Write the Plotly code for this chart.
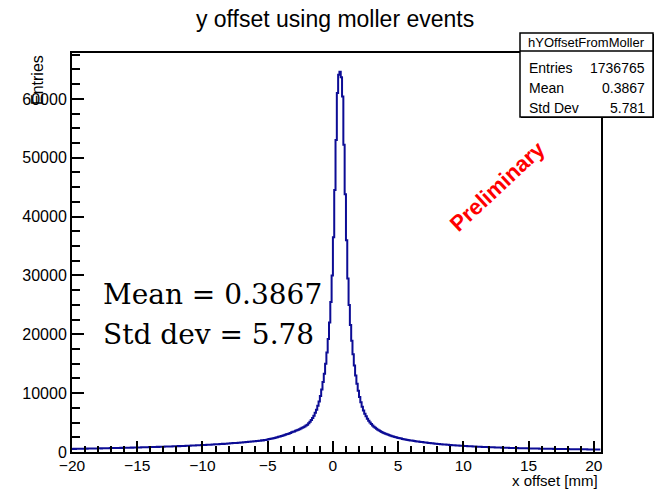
import plotly.graph_objects as go

# ---------------- data ----------------
bin_width = 0.1
x_low = -20.0
# counts per 0.1 mm bin, x from -20.0 to 20.5
counts_left = [
    529, 541, 522, 548, 537, 556, 544, 561, 552, 566,
    574, 563, 589, 578, 595, 584, 601, 590, 612, 603,
    618, 629, 611, 636, 627, 645, 633, 652, 641, 659,
    662, 677, 668, 684, 673, 692, 686, 701, 694, 710,
    716, 708, 729, 738, 724, 747, 741, 756, 749, 768,
    771, 784, 776, 795, 788, 806, 799, 817, 811, 829,
    834, 851, 843, 862, 857, 874, 868, 889, 881, 902,
    906, 921, 915, 937, 929, 951, 946, 968, 960, 983,
    988, 1004, 997, 1021, 1015, 1039, 1031, 1056, 1049, 1072,
    1078, 1097, 1089, 1114, 1106, 1133, 1127, 1152, 1146, 1178,
    1183, 1205, 1198, 1226, 1219, 1247, 1241, 1272, 1266, 1301,
    1309, 1334, 1327, 1361, 1352, 1388, 1379, 1414, 1407, 1446,
    1458, 1489, 1478, 1518, 1509, 1548, 1539, 1579, 1571, 1617,
    1629, 1668, 1657, 1702, 1693, 1738, 1729, 1776, 1768, 1822,
    1839, 1884, 1875, 1932, 1921, 1979, 1968, 2031, 2022, 2089,
    2162, 2205, 2251, 2296, 2349, 2398, 2455, 2511, 2573, 2634,
    2703, 2771, 2845, 2918, 2997, 3078, 3160, 3248, 3340, 3420,
    3500, 3590, 3680, 3780, 3880, 3990, 4100, 4220, 4350, 4490,
    4640, 4870, 5130, 5430, 5780, 6180, 6650, 7200, 7850, 8600,
    9500, 10600, 11900, 13300, 15000, 16900, 19200, 22000, 25500, 30000,
    36500, 44500, 53000, 61000,
]
counts_peak = [64100, 64600, 63700]
counts_right = [
    60400, 52200, 43800, 36000, 29500, 25000, 21600, 18900, 16600, 14700,
    13000, 11600, 10400, 9350, 8450, 7700, 7060, 6520, 6060, 5660,
    5310, 5010, 4740, 4500, 4290, 4100, 3930, 3780, 3640, 3510,
    3390, 3280, 3180, 3085, 2995, 2910, 2830, 2755, 2685, 2620,
    2555, 2495, 2440, 2385, 2330, 2280, 2230, 2185, 2140, 2095,
    2055, 2015, 1975, 1940, 1905, 1870, 1835, 1800, 1770, 1740,
    1710, 1680, 1650, 1622, 1595, 1568, 1542, 1516, 1491, 1467,
    1443, 1420, 1398, 1376, 1355, 1334, 1314, 1294, 1275, 1256,
    1238, 1220, 1202, 1185, 1168, 1152, 1136, 1120, 1105, 1090,
    1075, 1061, 1047, 1033, 1020, 1007, 994, 981, 969, 957,
    945, 934, 923, 912, 901, 890, 880, 870, 860, 850,
    840, 831, 822, 813, 804, 795, 787, 779, 771, 763,
    755, 747, 740, 733, 726, 719, 712, 705, 698, 691,
    685, 679, 673, 667, 661, 655, 649, 643, 637, 632,
    627, 622, 617, 612, 607, 602, 597, 592, 587, 582,
    577, 572, 568, 564, 560, 556, 552, 548, 544, 540,
    536, 532, 528, 524, 520, 516, 512, 509, 506, 503,
    500, 497, 494, 491, 488, 485, 482, 479, 476, 473,
    470, 467, 464, 461, 458, 455, 452, 449, 446, 443,
    440, 437, 434, 431, 428, 425, 422, 420,
]
counts = counts_left + counts_peak + counts_right

x_ticks = [-20, -15, -10, -5, 0, 5, 10, 15, 20]
x_tick_text = ["−20", "−15", "−10", "−5", "0", "5", "10", "15", "20"]
y_ticks = [0, 10000, 20000, 30000, 40000, 50000, 60000]
y_tick_text = ["0", "10000", "20000", "30000", "40000", "50000", "60000"]

title_text = "y offset using moller events"
x_title = "x offset [mm]"
y_title = "Entries"
stats_name = "hYOffsetFromMoller"
stats_rows = [("Entries", "1736765"), ("Mean", "0.3867"), ("Std Dev", "5.781")]
note_lines = ["Mean = 0.3867", "Std dev = 5.78"]

# ---------------- figure ----------------
edges = [round(x_low + i * bin_width, 4) for i in range(len(counts) + 1)]
ys = counts + [counts[-1]]

fig = go.Figure()
fig.add_trace(go.Scatter(
    x=edges, y=ys, mode="lines", line_shape="hv",
    line=dict(color="#0c0c95", width=2), hoverinfo="skip", showlegend=False,
))

W, H = 657, 490
L, R, T, B = 72, 601, 53, 452
pw, ph = R - L, B - T

def px(x):
    return (x - L) / pw

def py(y):
    return (B - y) / ph

ytick_font = dict(family="Liberation Sans, Arial, sans-serif", size=16, color="black")
xtick_font = dict(family="Liberation Sans, Arial, sans-serif", size=15.5, color="black")

fig.update_layout(
    width=W, height=H,
    margin=dict(l=L, r=W - R, t=T, b=H - B),
    paper_bgcolor="white", plot_bgcolor="white",
    title=dict(text=title_text, x=0.51, xref="container", xanchor="center",
               y=1 - 19 / H, yref="container", yanchor="middle",
               font=dict(family="Liberation Sans, Arial, sans-serif", size=23, color="black")),
    xaxis=dict(range=[-20, 20.55], tickvals=x_ticks, ticktext=x_tick_text,
               ticks="inside", ticklen=11, tickwidth=1.5, tickcolor="black",
               ticklabelstandoff=-2,
               minor=dict(dtick=1, tick0=0, ticks="inside", ticklen=6, tickwidth=1.5, tickcolor="black"),
               showline=True, linewidth=2, linecolor="black", mirror=True,
               showgrid=False, zeroline=False, tickfont=xtick_font),
    yaxis=dict(range=[0, 67800], tickvals=y_ticks, ticktext=y_tick_text,
               ticks="inside", ticklen=12, tickwidth=1.5, tickcolor="black",
               minor=dict(dtick=2500, tick0=0, ticks="inside", ticklen=8, tickwidth=1.5, tickcolor="black"),
               showline=True, linewidth=2, linecolor="black", mirror=True,
               showgrid=False, zeroline=False, tickfont=ytick_font),
)

anns = []
# axis titles
anns.append(dict(text=y_title, xref="paper", yref="paper", x=px(37), y=py(53),
                 xanchor="center", yanchor="top", textangle=-90, showarrow=False,
                 font=dict(family="Liberation Sans, Arial, sans-serif", size=16, color="black")))
anns.append(dict(text=x_title, xref="paper", yref="paper", x=px(599), y=py(490),
                 xanchor="right", yanchor="bottom", showarrow=False, borderpad=0,
                 font=dict(family="Liberation Sans, Arial, sans-serif", size=15, color="black")))
# big serif note
for i, line in enumerate(note_lines):
    anns.append(dict(text=line, xref="paper", yref="paper", x=px(101), y=py(294 + 40 * i),
                     xanchor="left", yanchor="middle", showarrow=False,
                     font=dict(family="DejaVu Serif, serif", size=28, color="black")))
# Preliminary
anns.append(dict(text="<b>Preliminary</b>", xref="paper", yref="paper", x=px(497), y=py(186),
                 xanchor="center", yanchor="middle", textangle=-43, showarrow=False,
                 font=dict(family="Liberation Sans, Arial, sans-serif", size=22, color="#ff0000")))

# stats box
bx0, bx1, by0, by1, bsep = 520, 653, 33, 117, 51
shapes = [
    dict(type="rect", xref="paper", yref="paper", x0=px(bx0 + 1), x1=px(bx1 + 1), y0=py(by1 + 1), y1=py(by0 + 1),
         line=dict(width=0), fillcolor="black", layer="above"),
    dict(type="rect", xref="paper", yref="paper", x0=px(bx0), x1=px(bx1), y0=py(by1), y1=py(by0),
         line=dict(color="black", width=1.5), fillcolor="white", layer="above"),
    dict(type="line", xref="paper", yref="paper", x0=px(bx0), x1=px(bx1), y0=py(bsep), y1=py(bsep),
         line=dict(color="black", width=1.5), layer="above"),
]
sfont = dict(family="Liberation Sans, Arial, sans-serif", size=13, color="black")
rfont = dict(family="Liberation Sans, Arial, sans-serif", size=14, color="black")
anns.append(dict(text=stats_name, xref="paper", yref="paper", x=px((bx0 + bx1) / 2), y=py(42.5),
                 xanchor="center", yanchor="middle", showarrow=False, font=sfont))
for i, (k, v) in enumerate(stats_rows):
    yy = py(68 + 20 * i)
    anns.append(dict(text=k, xref="paper", yref="paper", x=px(527), y=yy,
                     xanchor="left", yanchor="middle", showarrow=False, font=rfont))
    anns.append(dict(text=v, xref="paper", yref="paper", x=px(647), y=yy,
                     xanchor="right", yanchor="middle", showarrow=False, font=rfont))

fig.update_layout(annotations=anns, shapes=shapes)
fig.write_html("out.html")
